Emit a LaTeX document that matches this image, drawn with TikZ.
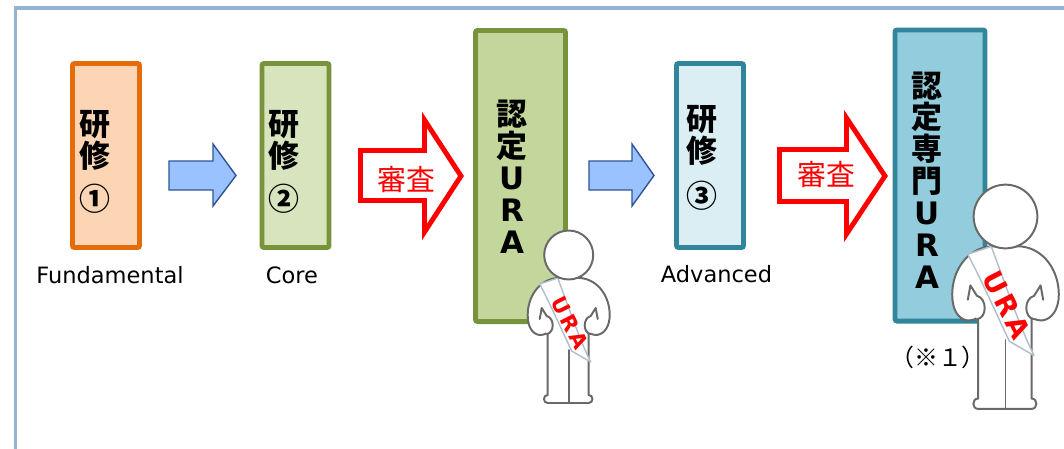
\documentclass[tikz,border=0pt]{standalone}
\usepackage{fontspec}
\setmainfont{DejaVu Sans}
\newfontfamily\jp{Noto Sans CJK JP}

\definecolor{framebl}{RGB}{149,179,215}
\definecolor{orgline}{RGB}{228,108,10}
\definecolor{orgfill}{RGB}{252,213,181}
\definecolor{grnline}{RGB}{119,147,60}
\definecolor{grnpale}{RGB}{215,228,189}
\definecolor{grnfill}{RGB}{195,214,155}
\definecolor{tealline}{RGB}{49,133,155}
\definecolor{tealpale}{RGB}{219,238,244}
\definecolor{tealfill}{RGB}{147,205,221}
\definecolor{arrowbl}{RGB}{153,194,255}
\definecolor{arrowedge}{RGB}{47,85,151}
\definecolor{persongray}{RGB}{105,105,105}
\definecolor{sashedge}{RGB}{175,190,205}

\tikzset{
  course/.style={draw, line width=3.5pt, rounded corners=1.5pt, inner sep=0pt,
    minimum width=1.675cm, minimum height=4.6cm},
  certbox/.style={draw, line width=3.5pt, rounded corners=1.5pt, inner sep=0pt,
    minimum width=2.25cm, minimum height=7.275cm},
  kanji/.style={align=center, inner sep=0pt,
    font=\jp\bfseries\fontsize{22}{22.7}\selectfont},
  caption/.style={inner sep=0pt, font=\fontsize{16}{19}\selectfont},
  flow/.style={draw=arrowedge, fill=arrowbl, line width=1pt, line join=miter},
  exam/.style={draw=red, fill=white, line width=3.5pt, line join=miter},
  examtext/.style={inner sep=0pt, text=red, font=\jp\fontsize{20.5}{22}\selectfont},
  person line/.style={draw=persongray, line width=1.4pt, line join=round, line cap=round},
  ura person/.pic={
    % body with arms akimbo
    \path[person line, fill=white] (-12,23) .. controls (-30,25) and (-41,42) .. (-41,60)
      .. controls (-41,71) and (-37,79) .. (-29,80)
      .. controls (-24,80) and (-21,78) .. (-21,76)
      -- (-21,140) .. controls (-26,140) and (-26,148) .. (-21,148)
      -- (20,148) .. controls (25,148) and (25,140) .. (20,140)
      -- (20,76) .. controls (20,78) and (23,80) .. (28,80)
      .. controls (36,79) and (41,71) .. (41,60)
      .. controls (41,42) and (30,25) .. (12,23) -- cycle;
    % hands with thumbs up
    \path[person line, fill=white] (-29,64) -- (-27,53) -- (-22,61)
      .. controls (-14,63) and (-14,78) .. (-22,79);
    \path[person line, fill=white] (29,64) -- (27,53) -- (22,61)
      .. controls (14,63) and (14,78) .. (22,79);
    \path[person line] (0,95) -- (0,148);
    % sash
    \filldraw[draw=sashedge, fill=white, line width=1pt, line join=round]
      (-29,29) -- (-11,23) .. controls (1,55) and (11,85) .. (22,107)
      -- (3,96) .. controls (-7,75) and (-18,50) .. cycle;
    \node[rotate=-63, transform shape, text=red, inner sep=0pt,
      font=\bfseries\fontsize{15}{16}\selectfont] (sash) at (1,68)
      {U\hspace{2pt}R\hspace{2pt}A};
    % head
    \path[person line, fill=white] (0,0) circle[radius=24.5];
  }
}

\begin{document}
\begin{tikzpicture}[x=0.025cm, y=-0.025cm]
\useasboundingbox (0,0) rectangle (1064,448);
\fill[white] (0,0) rectangle (1064,448);
\draw[framebl, line width=2.3pt] (1070,8) -- (15.5,8) -- (15.5,460);

% training courses and certificates
\node[course, draw=orgline, fill=orgfill] (c1) at (106,155.5) {};
\node[course, draw=grnline, fill=grnpale] (c2) at (295.5,155.5) {};
\node[certbox, draw=grnline, fill=grnfill] (u1) at (520.5,176) {};
\node[course, draw=tealline, fill=tealpale] (c3) at (710,155.5) {};
\node[certbox, draw=tealline, fill=tealfill] (u2) at (940,175.5) {};

\node[kanji] (t1) at (95,162) {研\\修\\[8pt]①};
\node[kanji] (t2) at (284,162) {研\\修\\[8pt]②};
\node[kanji] (t3) at (702,158) {研\\修\\[9pt]③};
\node[kanji] (t4) at (512,176.5) {認\\定\\{\rmfamily U}\\{\rmfamily R}\\{\rmfamily A}};
\node[kanji] (t5) at (927,180) {認\\定\\専\\門\\{\rmfamily U}\\{\rmfamily R}\\{\rmfamily A}};

\node[caption, anchor=base] (l1) at (110,283) {Fundamental};
\node[caption, anchor=base] (l2) at (292,283) {Core};
\node[caption, anchor=base] (l3) at (716.5,282) {Advanced};
\node[inner sep=0pt, anchor=base, font=\jp\fontsize{17}{20}\selectfont] (note) at (938,366) {（※１）};

% arrows
\draw[flow] (169,161) -- (213,161) -- (213,144) -- (236,175.5) -- (213,206) -- (213,190) -- (169,190) -- cycle;
\draw[flow] (589,161) -- (632,161) -- (632,144) -- (654,175.5) -- (632,206) -- (632,190) -- (589,190) -- cycle;
\draw[exam] (360.5,150.5) -- (424.5,150.5) -- (424.5,120) -- (461,176) -- (424.5,232) -- (424.5,200.5) -- (360.5,200.5) -- cycle;
\draw[exam] (779.5,149.5) -- (846.5,149.5) -- (846.5,118) -- (885,176) -- (846.5,234) -- (846.5,201.5) -- (779.5,201.5) -- cycle;
\node[examtext] (e1) at (406.5,179.5) {審査};
\node[examtext] (e2) at (826,174.5) {審査};

% certified staff
\pic at (568.7,255) {ura person};
\pic[scale=1.3] at (1005.5,216.5) {ura person};
\end{tikzpicture}
\end{document}
